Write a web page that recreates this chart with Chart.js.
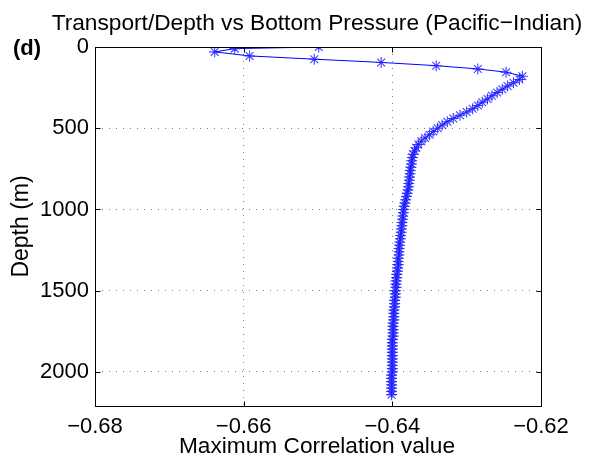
<!DOCTYPE html>
<html>
<head>
<meta charset="utf-8">
<script src="https://cdn.jsdelivr.net/npm/chart.js@4"></script>
<style>
html,body{margin:0;padding:0;background:#fff;}
#wrap{width:592px;height:463px;position:relative;}
</style>
</head>
<body>
<div id="wrap"><canvas id="c" width="592" height="463"></canvas></div>
<script>
// ---- data ----
const depth = [0,10,30,55,75,95,115,135,155,180,
 200,220,240,260,280,300,320,340,360,380,400,420,440,460,480,500,520,540,560,580,
 600,620,640,660,680,700,720,740,760,780,800,820,840,860,880,900,920,940,960,980,
 1000,1020,1040,1060,1080,1100,1120,1140,1160,1180,1200,1220,1240,1260,1280,1300,1320,1340,1360,1380,
 1400,1420,1440,1460,1480,1500,1520,1540,1560,1580,1600,1620,1640,1660,1680,1700,1720,1740,1760,1780,
 1800,1820,1840,1860,1880,1900,1920,1940,1960,1980,2000,2020,2040,2060,2080,2100,2120,2140];
const corr = [-0.6499,-0.6612,-0.6639,-0.6592,-0.6505,-0.6415,-0.6341,-0.6285,-0.6247,-0.6225,
 -0.6229,-0.6237,-0.6245,-0.6252,-0.6259,-0.6266,-0.6272,-0.6279,-0.6285,-0.6292,-0.6300,-0.6309,-0.6318,-0.6326,-0.6333,-0.6339,-0.6345,-0.6350,-0.6356,-0.6361,
 -0.6365,-0.6368,-0.6370,-0.6372,-0.6373,-0.6374,-0.6374,-0.6375,-0.6376,-0.6376,-0.6377,-0.6377,-0.6378,-0.6378,-0.6379,-0.6380,-0.6381,-0.6382,-0.6383,-0.6384,
 -0.6385,-0.6385,-0.6386,-0.6386,-0.6387,-0.6387,-0.6388,-0.6388,-0.6389,-0.6389,-0.6390,-0.6390,-0.6391,-0.6391,-0.6391,-0.6392,-0.6392,-0.6392,-0.6393,-0.6393,
 -0.6394,-0.6394,-0.6395,-0.6395,-0.6395,-0.6396,-0.6396,-0.6396,-0.6397,-0.6397,-0.6397,-0.6398,-0.6398,-0.6398,-0.6398,-0.6399,-0.6399,-0.6399,-0.6399,-0.6399,
 -0.6400,-0.6400,-0.6400,-0.6400,-0.6400,-0.6400,-0.6400,-0.6400,-0.6400,-0.6400,-0.6400,-0.6401,-0.6401,-0.6401,-0.6401,-0.6401,-0.6401,-0.6401];
const xTicks = [-0.68,-0.66,-0.64,-0.62];
const yTicks = [0,500,1000,1500,2000];
const titleText = 'Transport/Depth vs Bottom Pressure (Pacific\u2212Indian)';
const panelLabel = '(d)';
const xTitle = 'Maximum Correlation value';
const yTitle = 'Depth (m)';

const FONT = "'Liberation Sans', Arial, Helvetica, sans-serif";

const fmtX = v => (v < 0 ? '\u2212' : '') + Math.abs(v).toFixed(2);

const decor = {
  id: 'decor',
  afterDraw(chart) {
    const ctx = chart.ctx, a = chart.chartArea;
    const xs = chart.scales.x, ys = chart.scales.y;
    ctx.save();
    // frame
    ctx.strokeStyle = '#000';
    ctx.lineWidth = 1;
    const L = Math.round(a.left) + 0.5, R = Math.round(a.right) + 0.5;
    const T = Math.round(a.top) + 0.5, B = Math.round(a.bottom) + 0.5;
    ctx.strokeRect(L, T, R - L, B - T);
    // inward ticks
    ctx.beginPath();
    xTicks.forEach(v => {
      const px = Math.round(xs.getPixelForValue(v)) + 0.5;
      ctx.moveTo(px, B); ctx.lineTo(px, B - 5);
      ctx.moveTo(px, T); ctx.lineTo(px, T + 5);
    });
    yTicks.forEach(v => {
      const py = Math.round(ys.getPixelForValue(v)) + 0.5;
      ctx.moveTo(L, py); ctx.lineTo(L + 5, py);
      ctx.moveTo(R, py); ctx.lineTo(R - 5, py);
    });
    ctx.stroke();
    // texts
    ctx.fillStyle = '#000';
    ctx.textAlign = 'center';
    ctx.textBaseline = 'alphabetic';
    ctx.font = '22.7px ' + FONT;
    ctx.fillText(titleText, (a.left + a.right) / 2 - 1, 30);
    ctx.font = '22.7px ' + FONT;
    ctx.fillText(xTitle, (a.left + a.right) / 2 - 1, 453);
    ctx.save();
    ctx.translate(28, (a.top + a.bottom) / 2);
    ctx.rotate(-Math.PI / 2);
    ctx.font = '23px ' + FONT;
    ctx.fillText(yTitle, 0, 0);
    ctx.restore();
    ctx.font = 'bold 22px ' + FONT;
    ctx.textAlign = 'left';
    ctx.fillText(panelLabel, 13, 55);
    ctx.restore();
  }
};

new Chart(document.getElementById('c'), {
  type: 'scatter',
  data: {
    datasets: [{
      data: depth.map((d, i) => ({x: corr[i], y: d})),
      showLine: true,
      borderColor: '#0000ff',
      borderWidth: 1,
      pointStyle: 'star',
      pointRadius: 5.5,
      pointBorderColor: 'rgba(30,30,255,0.85)',
      pointBackgroundColor: 'rgba(0,0,0,0)',
      pointBorderWidth: 1.1,
      tension: 0
    }]
  },
  plugins: [decor],
  options: {
    responsive: false,
    animation: false,
    devicePixelRatio: 1,
    layout: {padding: {left: 0, right: 51, top: 47, bottom: 0}},
    plugins: {legend: {display: false}, tooltip: {enabled: false}, title: {display: false}},
    scales: {
      x: {
        type: 'linear', min: -0.68, max: -0.62,
        afterBuildTicks: s => { s.ticks = xTicks.map(v => ({value: v})); },
        afterFit: s => { s.height = 57; },
        grid: {display: true, drawTicks: false, color: 'rgba(0,0,0,0.5)', lineWidth: 1},
        border: {display: false, dash: [1, 6]},
        ticks: {callback: v => fmtX(v), color: '#000', font: {family: FONT, size: 22}, padding: 8, maxRotation: 0}
      },
      y: {
        type: 'linear', min: 0, max: 2210, reverse: true,
        afterBuildTicks: s => { s.ticks = yTicks.map(v => ({value: v})); },
        afterFit: s => { s.width = 95; },
        grid: {display: true, drawTicks: false, color: 'rgba(0,0,0,0.5)', lineWidth: 1},
        border: {display: false, dash: [1, 6]},
        ticks: {callback: v => String(v), color: '#000', font: {family: FONT, size: 22}, padding: 6}
      }
    }
  }
});
</script>
</body>
</html>
